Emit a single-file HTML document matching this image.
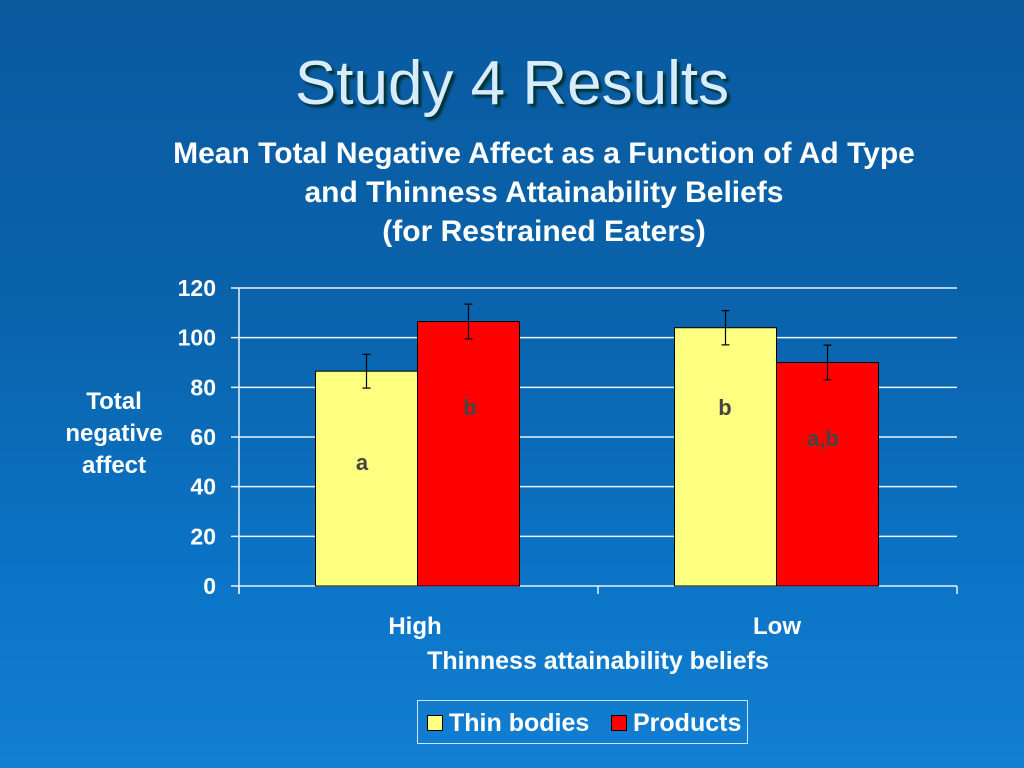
<!DOCTYPE html>
<html><head><meta charset="utf-8"><style>
html,body{margin:0;padding:0}
body{width:1024px;height:768px;overflow:hidden;background:linear-gradient(180deg,#0a5aa0 0%,#0a63ab 40%,#0b74c6 75%,#137fd2 100%);font-family:"Liberation Sans",Arial,sans-serif;position:relative}
.t{position:absolute;color:#fff;font-weight:bold;text-align:center}
</style></head><body>
<div class="t" style="left:0;width:1024px;top:48px;font-size:62px;font-weight:normal;color:#d8ecff;text-shadow:3px 3px 2px #033;">Study 4 Results</div>
<div class="t" style="left:44px;width:1000px;top:134px;font-size:30px;line-height:39px;">Mean Total Negative Affect as a Function of Ad Type<br>and Thinness Attainability Beliefs<br>(for Restrained Eaters)</div>
<div class="t" style="left:44px;width:140px;top:386px;font-size:24px;line-height:32px;">Total<br>negative<br>affect</div>
<svg width="1024" height="768" style="position:absolute;left:0;top:0">
<g id="g"></g>
</svg>
<div class="t" style="left:348px;width:500px;top:647px;font-size:25px;">Thinness attainability beliefs</div>
<div style="position:absolute;left:417px;top:700px;width:329px;height:42px;border:1px solid #cfe4f7;color:#fff;font-weight:bold;font-size:25px;">
<span style="position:absolute;left:9px;top:8px;white-space:nowrap"><span style="display:inline-block;width:14px;height:14px;background:#ffff80;border:1px solid #000;margin-right:6px"></span>Thin bodies</span>
<span style="position:absolute;left:193px;top:8px;white-space:nowrap"><span style="display:inline-block;width:14px;height:14px;background:#f00;border:1px solid #000;margin-right:6px"></span>Products</span>
</div>
<script>
const categories=["High","Low"];
const thinBodies=[86.5,104];
const products=[106.5,90];
const thinErr=[6.8,6.9];
const prodErr=[7,7];
const thinLetters=["a","b"];
const prodLetters=["b","a,b"];
const yTicks=[0,20,40,60,80,100,120];
const NS="http://www.w3.org/2000/svg",g=document.getElementById('g');
const x0=239,x1=957,y0=586,yTop=288,yMax=120;
const y=v=>y0-(y0-yTop)*v/yMax;
const cw=(x1-x0)/categories.length;
function mk(t,a,txt){const e=document.createElementNS(NS,t);for(const k in a)e.setAttribute(k,a[k]);if(txt!=null)e.textContent=txt;g.appendChild(e);return e;}
yTicks.forEach(v=>{
 const l=mk('line',{x1:231,x2:x1,y1:y(v),y2:y(v),stroke:'#e8f2fb','stroke-width':1.5});
 
 
 const t=mk('text',{x:216,y:y(v)+8,'text-anchor':'end',fill:'#fff','font-size':23,'font-weight':'bold','font-family':'Liberation Sans'},v);
 
 
});
mk('line',{x1:x0,x2:x0,y1:yTop,y2:y0+8,stroke:'#e8f2fb','stroke-width':1.5});
for(let i=0;i<=categories.length;i++)mk('line',{x1:x0+cw*i,x2:x0+cw*i,y1:y0,y2:y0+8,stroke:'#e8f2fb','stroke-width':1.5});
const bw=102;
categories.forEach((c,i)=>{
 const cx=x0+cw*(i+0.5);
 const xs=[cx-bw-1,cx-1];
 [[thinBodies,thinErr,thinLetters,'#ffff80','thin'],[products,prodErr,prodLetters,'#ff0000','products']].forEach((s,j)=>{
  const v=s[0][i],e=s[1][i];
  const r=mk('rect',{x:xs[j],y:y(v),width:bw,height:y0-y(v),fill:s[3],stroke:'#000','stroke-width':1});
  
  
  const ex=xs[j]+bw/2;
  mk('line',{x1:ex,x2:ex,y1:y(v+e),y2:y(v-e),stroke:'#000','stroke-width':1.2});
  mk('line',{x1:ex-4,x2:ex+4,y1:y(v+e),y2:y(v+e),stroke:'#000','stroke-width':1.2});
  mk('line',{x1:ex-4,x2:ex+4,y1:y(v-e),y2:y(v-e),stroke:'#000','stroke-width':1.2});
 });
 const t=mk('text',{x:i?777:415,y:634,'text-anchor':'middle',fill:'#fff','font-size':24,'font-weight':'bold','font-family':'Liberation Sans'},c);
 
 
});
[[362,470],[470,415],[725,415],[823,446]].forEach((p,k)=>{
 const lbl=k<2?[thinLetters[0],prodLetters[0]][k]:[thinLetters[1],prodLetters[1]][k-2];
 const t=mk('text',{x:p[0],y:p[1],'text-anchor':'middle',fill:'#444','font-size':22,'font-weight':'bold','font-family':'Liberation Sans'},lbl);
 
 
});
</script>
</body></html>
